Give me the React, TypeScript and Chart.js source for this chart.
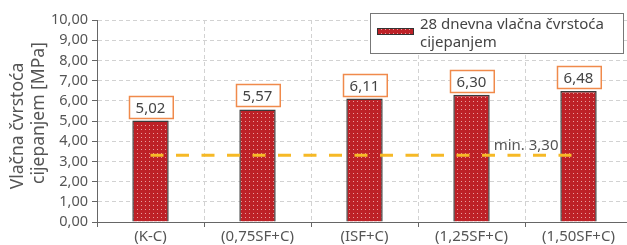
import React, { useEffect, useRef } from "react";
import { Chart, registerables } from "chart.js";
Chart.register(...registerables);

const categories = ["(K-C)", "(0,75SF+C)", "(ISF+C)", "(1,25SF+C)", "(1,50SF+C)"];
const values = [5.02, 5.57, 6.11, 6.3, 6.48];
const valueLabels = ["5,02", "5,57", "6,11", "6,30", "6,48"];
const minValue = 3.3;
const minLabel = "min. 3,30";
const legendLines = ["28 dnevna vlačna čvrstoća", "cijepanjem"];
const yTitleLines = ["Vlačna čvrstoća", "cijepanjem [MPa]"];
const yMin = 0;
const yMax = 10;
const yStep = 1;

const FONT = "'Noto Sans', 'Open Sans', sans-serif";
const TEXT = "#555555";

function makePattern(ctx: CanvasRenderingContext2D) {
  const c = document.createElement("canvas");
  c.width = 4;
  c.height = 4;
  const g = c.getContext("2d")!;
  g.fillStyle = "#bd2127";
  g.fillRect(0, 0, 4, 4);
  g.fillStyle = "#e8a0a0";
  g.fillRect(1, 1, 1, 1);
  return ctx.createPattern(c, "repeat")!;
}

export default function App() {
  const ref = useRef<HTMLCanvasElement>(null);
  useEffect(() => {
    const canvas = ref.current!;
    const ctx = canvas.getContext("2d")!;
    const pattern = makePattern(ctx);

    const overlay = {
      id: "overlay",
      afterDatasetsDraw(chart: any) {
        const c = chart.ctx;
        const xs = chart.scales.x;
        const ys = chart.scales.y;
        const yp = ys.getPixelForValue(minValue);
        c.save();
        c.strokeStyle = "#f6b926";
        c.lineWidth = 3;
        c.setLineDash([13, 12.5]);
        c.beginPath();
        c.moveTo(xs.getPixelForValue(0), yp);
        c.lineTo(xs.getPixelForValue(categories.length - 1), yp);
        c.stroke();
        c.setLineDash([]);
        c.font = `15px ${FONT}`;
        c.fillStyle = TEXT;
        c.textAlign = "right";
        c.textBaseline = "middle";
        c.fillText(minLabel, xs.getPixelForValue(categories.length - 1) - 20, yp - 10);
        const meta = chart.getDatasetMeta(0);
        c.font = `15px ${FONT}`;
        meta.data.forEach((bar: any, i: number) => {
          const t = valueLabels[i];
          const w = c.measureText(t).width + 14;
          const h = 22;
          const x = Math.round(bar.x - w / 2) + 0.5;
          const y = Math.round(bar.y - 3 - h) + 0.5;
          c.fillStyle = "#ffffff";
          c.fillRect(x, y, w, h);
          c.strokeStyle = "#f08a4b";
          c.lineWidth = 1.5;
          c.strokeRect(x, y, w, h);
          c.fillStyle = "#444444";
          c.textAlign = "center";
          c.textBaseline = "middle";
          c.fillText(t, bar.x, y + h / 2 + 1);
        });
        c.restore();
      },
      afterDraw(chart: any) {
        const c = chart.ctx;
        c.save();
        c.fillStyle = "#ffffff";
        c.fillRect(370.5, 13.5, 253, 40);
        c.strokeStyle = "#777777";
        c.lineWidth = 1;
        c.strokeRect(370.5, 13.5, 253, 40);
        c.fillStyle = pattern;
        c.fillRect(377, 28, 37, 7);
        c.strokeStyle = "#333333";
        c.strokeRect(377.5, 28.5, 36, 6);
        c.fillStyle = "#444444";
        c.font = `15px ${FONT}`;
        c.textAlign = "left";
        c.textBaseline = "middle";
        c.fillText(legendLines[0], 420, 25);
        c.fillText(legendLines[1], 420, 43);
        c.restore();
        c.save();
        c.font = `17.5px ${FONT}`;
        c.fillStyle = TEXT;
        c.textAlign = "center";
        c.textBaseline = "middle";
        c.rotate(-Math.PI / 2);
        c.fillText(yTitleLines[0], -126, 18);
        c.fillText(yTitleLines[1], -113, 39);
        c.restore();
      },
    };

    const chart = new Chart(ctx, {
      type: "bar",
      data: {
        labels: categories,
        datasets: [
          {
            data: values,
            backgroundColor: pattern as any,
            borderColor: "#3a3a3a",
            borderWidth: 1.5,
            barPercentage: 0.34,
            categoryPercentage: 1,
          },
        ],
      },
      options: {
        responsive: false,
        animation: false,
        layout: { padding: { top: 20, right: 8, left: 0, bottom: 0 } },
        plugins: { legend: { display: false }, tooltip: { enabled: false } },
        scales: {
          x: {
            grid: { offset: true, color: "#d2d2d2", tickColor: "#666666", tickLength: 5, tickBorderDash: [] },
            border: { display: true, color: "#666666", width: 1, dash: [4, 3] },
            ticks: { color: TEXT, font: { size: 15, family: FONT }, padding: 1, maxRotation: 0, autoSkip: false },
            afterFit: (s: any) => {
              s.height = 23;
            },
          },
          y: {
            min: yMin,
            max: yMax,
            grid: { color: "#d2d2d2", tickColor: "#666666", tickLength: 5, tickBorderDash: [] },
            border: { display: true, color: "#666666", width: 1, dash: [4, 3] },
            ticks: {
              stepSize: yStep,
              autoSkip: false,
              color: TEXT,
              font: { size: 14.5, family: FONT },
              padding: 4,
              callback: (v: any) => Number(v).toFixed(2).replace(".", ","),
            },
            afterFit: (s: any) => {
              s.width = 97;
            },
          },
        },
      },
      plugins: [overlay],
    });
    return () => chart.destroy();
  }, []);
  return (
    <div style={{ position: "fixed", left: 0, top: 0, width: 640, height: 245, background: "#fff" }}>
      <canvas ref={ref} width={640} height={245} style={{ display: "block" }} />
    </div>
  );
}
